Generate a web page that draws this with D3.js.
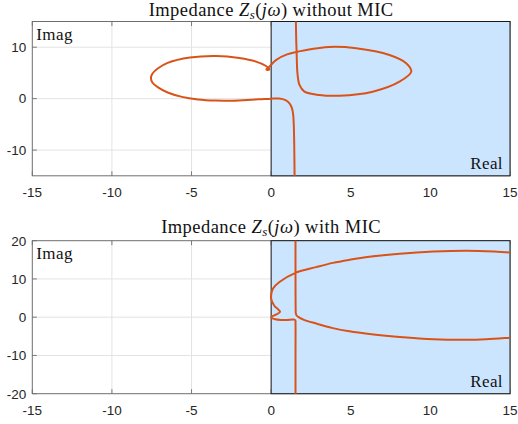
<!DOCTYPE html>
<html>
<head>
<meta charset="utf-8">
<script src="https://cdn.jsdelivr.net/npm/d3@7"></script>
<style>
  html, body { margin: 0; padding: 0; background: #fff; }
  svg { display: block; }
  .tick-label { font-family: "Liberation Sans", Arial, sans-serif; font-size: 13.5px; fill: #262626; }
  .serif { font-family: "Liberation Serif", "Times New Roman", serif; fill: #111; }
</style>
</head>
<body>
<svg id="chart" width="518" height="424"></svg>
<script>
// Axis ticks
const xTicks = [-15, -10, -5, 0, 5, 10, 15];
const yTicksTop = [-10, 0, 10];
const yTicksBottom = [-20, -10, 0, 10, 20];

// Impedance locus without MIC (real part, imaginary part)
const topRe = [1.48, 1.47, 1.45, 1.42, 1.38, 1.3, 1.15, 0.9, 0.5, 0.0, -0.7, -1.5, -2.6, -3.5, -4.6, -5.6, -6.5, -7.1, -7.45, -7.55, -7.45, -7.1, -6.5, -5.1, -3.45, -2.0, -0.95, -0.35, -0.12, -0.2, -0.3, -0.15, 0.3, 1.0, 2.2, 3.66, 5.34, 7.43, 8.48, 8.8, 8.06, 6.38, 4.29, 3.03, 2.09, 1.78, 1.65, 1.6, 1.57, 1.55];
const topIm = [-16, -14.8, -9, -5, -3, -1.8, -0.9, -0.3, 0.02, 0.0, -0.12, -0.25, -0.4, -0.38, -0.15, 0.35, 1.2, 2.2, 3.1, 4.0, 4.9, 5.9, 6.95, 8.0, 8.3, 7.9, 7.2, 6.4, 5.8, 5.55, 5.7, 6.1, 7.5, 8.6, 9.45, 10.05, 9.8, 8.5, 6.9, 5.25, 3.3, 1.36, 0.58, 0.72, 1.36, 2.66, 5, 9, 12, 16];

// Impedance locus with MIC; NaN separates the two branches
const botRe = [1.53, 1.53, 1.53, 1.52, 1.4, 1.0, 0.6, 0.25, 0.03, 0.02, 0.3, 0.56, 0.45, 0.2, 0.02, 0.0, 0.12, 0.52, 1.53, 2.83, 3.88, 4.92, 6.17, 8.08, 10.2, 12.3, 14.0, 15.0, 16.5,
  NaN,
  16.5, 15.0, 13.5, 12.27, 10.2, 8.08, 6.17, 4.92, 3.88, 2.83, 2.1, 1.75, 1.6, 1.55, 1.54, 1.53, 1.53];
const botIm = [-21, -10, -1.5, -0.8, -0.62, -0.7, -0.72, -0.55, -0.2, 0.1, 0.65, 1.4, 2.0, 3.0, 4.5, 5.8, 7.5, 9.2, 11.6, 13.1, 14.2, 15.0, 15.8, 16.6, 17.15, 17.35, 17.15, 16.9, 16.4,
  NaN,
  -4.9, -5.35, -5.75, -5.9, -5.75, -5.15, -4.4, -3.7, -2.85, -1.65, -0.75, -0.05, 0.45, 1.0, 2, 10, 21];

// Right half-plane shading extent
const shadeRe = [0, 15];

const svg = d3.select("#chart");

const panels = [
  { id: "top", titleRest: " without MIC", yDomain: [-15, 15], yTicks: yTicksTop,
    top: 21.5, bottom: 175.8, titleY: 16, re: topRe, im: topIm },
  { id: "bot", titleRest: " with MIC", yDomain: [-20, 20], yTicks: yTicksBottom,
    top: 240.7, bottom: 393.7, titleY: 233, re: botRe, im: botIm }
];

const left = 32.3, right = 510;

panels.forEach(p => {
  const x = d3.scaleLinear().domain([-15, 15]).range([left, right]);
  const y = d3.scaleLinear().domain(p.yDomain).range([p.bottom, p.top]);
  const g = svg.append("g");

  g.append("clipPath").attr("id", "clip-" + p.id)
    .append("rect").attr("x", left).attr("y", p.top)
    .attr("width", right - left).attr("height", p.bottom - p.top);

  // grid
  g.append("g").selectAll("line").data(xTicks.slice(1, -1)).join("line")
    .attr("x1", d => x(d)).attr("x2", d => x(d))
    .attr("y1", p.top).attr("y2", p.bottom)
    .attr("stroke", "#e3e3e3").attr("stroke-width", 1);
  g.append("g").selectAll("line").data(p.yTicks.filter(d => d > p.yDomain[0] && d < p.yDomain[1])).join("line")
    .attr("x1", left).attr("x2", right)
    .attr("y1", d => y(d)).attr("y2", d => y(d))
    .attr("stroke", "#e3e3e3").attr("stroke-width", 1);

  // axis box and tick marks
  const tickLen = 4.5;
  const tk = g.append("g").attr("stroke", "#7a7a7a").attr("stroke-width", 1);
  tk.selectAll(".xb").data(xTicks).join("line")
    .attr("x1", d => x(d)).attr("x2", d => x(d))
    .attr("y1", p.bottom).attr("y2", p.bottom - tickLen);
  tk.selectAll(".xt").data(xTicks).join("line")
    .attr("x1", d => x(d)).attr("x2", d => x(d))
    .attr("y1", p.top).attr("y2", p.top + tickLen);
  tk.selectAll(".yl").data(p.yTicks).join("line")
    .attr("x1", left).attr("x2", left + tickLen)
    .attr("y1", d => y(d)).attr("y2", d => y(d));
  g.append("rect").attr("x", left).attr("y", p.top)
    .attr("width", right - left).attr("height", p.bottom - p.top)
    .attr("fill", "none").attr("stroke", "#6e6e6e").attr("stroke-width", 1);

  // shaded right half-plane
  g.append("rect")
    .attr("x", x(shadeRe[0])).attr("y", p.top)
    .attr("width", x(shadeRe[1]) - x(shadeRe[0])).attr("height", p.bottom - p.top)
    .attr("fill", "#cce5ff").attr("stroke", "#1a1a1a").attr("stroke-width", 1);

  // locus
  const pts = p.re.map((r, i) => [r, p.im[i]]);
  const line = d3.line()
    .defined(d => !isNaN(d[0]))
    .x(d => x(d[0])).y(d => y(d[1]))
    .curve(d3.curveCatmullRom.alpha(0.5));
  g.append("path").datum(pts)
    .attr("clip-path", "url(#clip-" + p.id + ")")
    .attr("d", line)
    .attr("fill", "none").attr("stroke", "#D95319")
    .attr("stroke-width", 2).attr("stroke-linejoin", "round");

  // tick labels
  g.selectAll(".xl").data(xTicks).join("text")
    .attr("class", "tick-label")
    .attr("x", d => x(d)).attr("y", p.bottom + 21.5)
    .attr("text-anchor", "middle")
    .text(d => String(d));
  g.selectAll(".ylab").data(p.yTicks).join("text")
    .attr("class", "tick-label")
    .attr("x", left - 6).attr("y", d => y(d) + 4.8)
    .attr("text-anchor", "end")
    .text(d => String(d));

  // corner labels
  g.append("text").attr("class", "serif").attr("font-size", 17)
    .attr("letter-spacing", 0.4)
    .attr("x", left + 4).attr("y", p.top + 18).text("Imag");
  g.append("text").attr("class", "serif").attr("font-size", 17)
    .attr("letter-spacing", 0.4)
    .attr("text-anchor", "end")
    .attr("x", right - 7).attr("y", p.bottom - 6.5).text("Real");

  // title
  const t = g.append("text").attr("class", "serif").attr("font-size", 18.5)
    .attr("letter-spacing", 0.45)
    .attr("x", (left + right) / 2).attr("y", p.titleY)
    .attr("text-anchor", "middle");
  t.append("tspan").text("Impedance ");
  t.append("tspan").attr("font-style", "italic").text("Z");
  t.append("tspan").attr("font-style", "italic").attr("font-size", 13).attr("dy", 3).text("s");
  t.append("tspan").attr("dy", -3).text("(");
  t.append("tspan").attr("font-style", "italic").text("jω");
  t.append("tspan").text(")" + p.titleRest);
});
</script>
</body>
</html>
